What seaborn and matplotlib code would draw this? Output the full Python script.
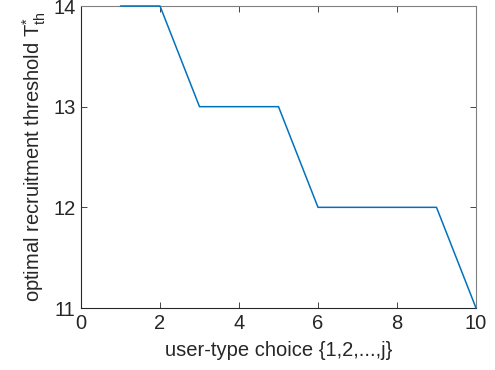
import matplotlib
matplotlib.use("Agg")
import matplotlib.pyplot as plt
import seaborn as sns
import pandas as pd

# Data
user_type = [1, 2, 3, 4, 5, 6, 7, 8, 9, 10]
threshold = [14, 14, 13, 13, 13, 12, 12, 12, 12, 11]
x_ticks = [0, 2, 4, 6, 8, 10]
y_ticks = [11, 12, 13, 14]

sns.set_theme(style="white")
plt.rcParams['font.family'] = ['Liberation Sans', 'DejaVu Sans']
plt.rcParams['mathtext.fontset'] = 'custom'
plt.rcParams['mathtext.rm'] = 'Liberation Sans'
plt.rcParams['mathtext.it'] = 'Liberation Sans'
plt.rcParams['mathtext.bf'] = 'Liberation Sans:bold'

df = pd.DataFrame({"x": user_type, "y": threshold})

fig = plt.figure(figsize=(4.95, 3.70), dpi=100)
ax = fig.add_axes([81/495, 1-308/370, (476-81)/495, (308-6)/370])
sns.lineplot(data=df, x="x", y="y", ax=ax, color="#0072BD", linewidth=1.1)
for ln in ax.lines:
    ln.set_clip_on(False)
    ln.set_zorder(5)

ax.set_xlim(0, 10)
ax.set_ylim(11, 14)
ax.set_xticks(x_ticks)
ax.set_yticks(y_ticks)
grey = "#262626"
for s in ax.spines.values():
    s.set_visible(True)
    s.set_color("#808080")
    s.set_linewidth(0.8)
ax.spines['left'].set_color(grey)
ax.spines['bottom'].set_color(grey)
fs = 14.5
ax.tick_params(direction="in", length=4, width=0.6, colors=grey, labelsize=fs,
               top=True, right=True, bottom=True, left=True, pad=4)
ax.set_xlabel("user-type choice {1,2,...,j}", fontsize=fs, color=grey, labelpad=6)
ax.set_ylabel(r"optimal recruitment threshold T$_{\mathrm{th}}^{*}$", fontsize=fs, color=grey, labelpad=4)

fig.savefig("out.png", dpi=100)
